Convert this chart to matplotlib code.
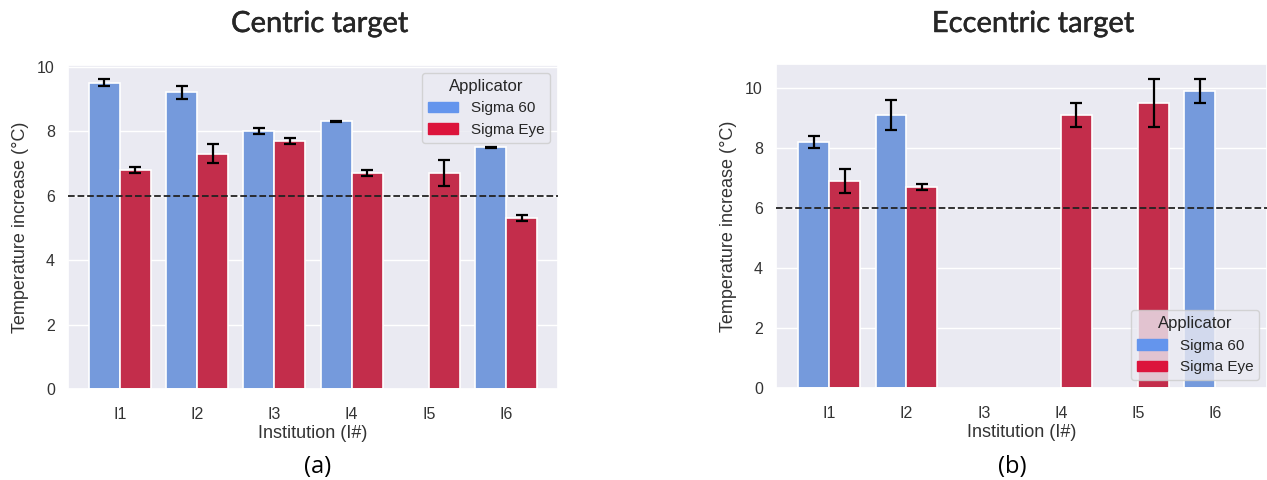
import matplotlib
matplotlib.use('Agg')
import matplotlib.pyplot as plt
import matplotlib.patches as mpatches
import matplotlib.patheffects as pe
import numpy as np
import seaborn as sns

sns.set_theme(style='darkgrid')
plt.rcParams['font.family'] = ['Liberation Sans', 'DejaVu Sans']

# Данные
institutions = ['I1', 'I2', 'I3', 'I4', 'I5', 'I6']
applicators = ['Sigma 60', 'Sigma Eye']

# Центральная мишень (nan = нет измерения)
centric_s60 = [9.5, 9.2, 8.0, 8.3, np.nan, 7.5]
centric_s60_err = [0.1, 0.2, 0.1, 0.02, np.nan, 0.02]
centric_eye = [6.8, 7.3, 7.7, 6.7, 6.7, 5.3]
centric_eye_err = [0.1, 0.3, 0.1, 0.1, 0.4, 0.1]

# Эксцентричная мишень
eccentric_s60 = [8.2, 9.1, np.nan, np.nan, np.nan, 9.9]
eccentric_s60_err = [0.2, 0.5, np.nan, np.nan, np.nan, 0.4]
eccentric_eye = [6.9, 6.7, np.nan, 9.1, 9.5, np.nan]
eccentric_eye_err = [0.4, 0.1, np.nan, 0.4, 0.8, np.nan]

threshold = 6

base_colors = ['cornflowerblue', 'crimson']
bar_colors = [sns.desaturate(c, 0.75) for c in base_colors]

fig = plt.figure(figsize=(12.67, 4.8), dpi=100)
ax1 = fig.add_axes([0.0537, 0.1896, 0.3867, 0.675])
ax2 = fig.add_axes([0.6125, 0.1917, 0.3875, 0.675])


def draw_panel(ax, s60, s60_err, eye, eye_err, ylim, xlim, legend_loc):
    x = np.arange(len(institutions))
    w = 0.4
    for vals, errs, off, col in [(s60, s60_err, -w / 2, bar_colors[0]),
                                 (eye, eye_err, w / 2, bar_colors[1])]:
        vals = np.array(vals, dtype=float)
        errs = np.array(errs, dtype=float)
        ok = ~np.isnan(vals)
        ax.bar(x[ok] + off, vals[ok], width=w, color=col,
               edgecolor='white', linewidth=1.2, zorder=2)
        ax.errorbar(x[ok] + off, vals[ok], yerr=errs[ok], fmt='none',
                    ecolor='black', elinewidth=1.6, capsize=4, capthick=1.6,
                    zorder=3)
    ax.axhline(threshold, color='#222222', linestyle='--', linewidth=1.3,
               zorder=4)
    ax.set_xticks(x)
    ax.set_xticklabels(institutions)
    ax.set_xlim(*xlim)
    ax.set_ylim(*ylim)
    ax.set_yticks([0, 2, 4, 6, 8, 10])
    ax.tick_params(labelsize=11.5, colors='#333333')
    ax.tick_params(axis='x', pad=7)
    ax.set_xlabel('Institution (I#)', fontsize=13, color='#333333', labelpad=2)
    ax.set_ylabel('Temperature increase (°C)', fontsize=13, color='#333333',
                  labelpad=6)
    handles = [mpatches.Patch(color=c, label=l)
               for c, l in zip(base_colors, applicators)]
    ax.legend(handles=handles, title='Applicator', loc=legend_loc,
              fontsize=11, title_fontsize=12, framealpha=0.8)
    ax.grid(axis='x', visible=False)


draw_panel(ax1, centric_s60, centric_s60_err, centric_eye, centric_eye_err,
           (0, 10.05), (-0.67, 5.67), 'upper right')
draw_panel(ax2, eccentric_s60, eccentric_s60_err, eccentric_eye,
           eccentric_eye_err, (0, 10.8), (-0.69, 5.67), 'lower right')

# Заголовки: обычный Lato с лёгкой обводкой, чтобы получить средний вес
thick = [pe.withStroke(linewidth=0.35, foreground='#262626')]
fig.text(0.2525, 0.95, 'Centric target', fontsize=21, family='Lato',
         ha='center', va='center', color='#262626', path_effects=thick)
fig.text(0.8155, 0.95, 'Eccentric target', fontsize=21, family='Lato',
         ha='center', va='center', color='#262626', path_effects=thick)
fig.text(0.251, 0.027, '(a)', fontsize=17, family='Open Sans',
         ha='center', va='center', color='black')
fig.text(0.799, 0.027, '(b)', fontsize=17, family='Open Sans',
         ha='center', va='center', color='black')

fig.savefig('out.png', dpi=100)
